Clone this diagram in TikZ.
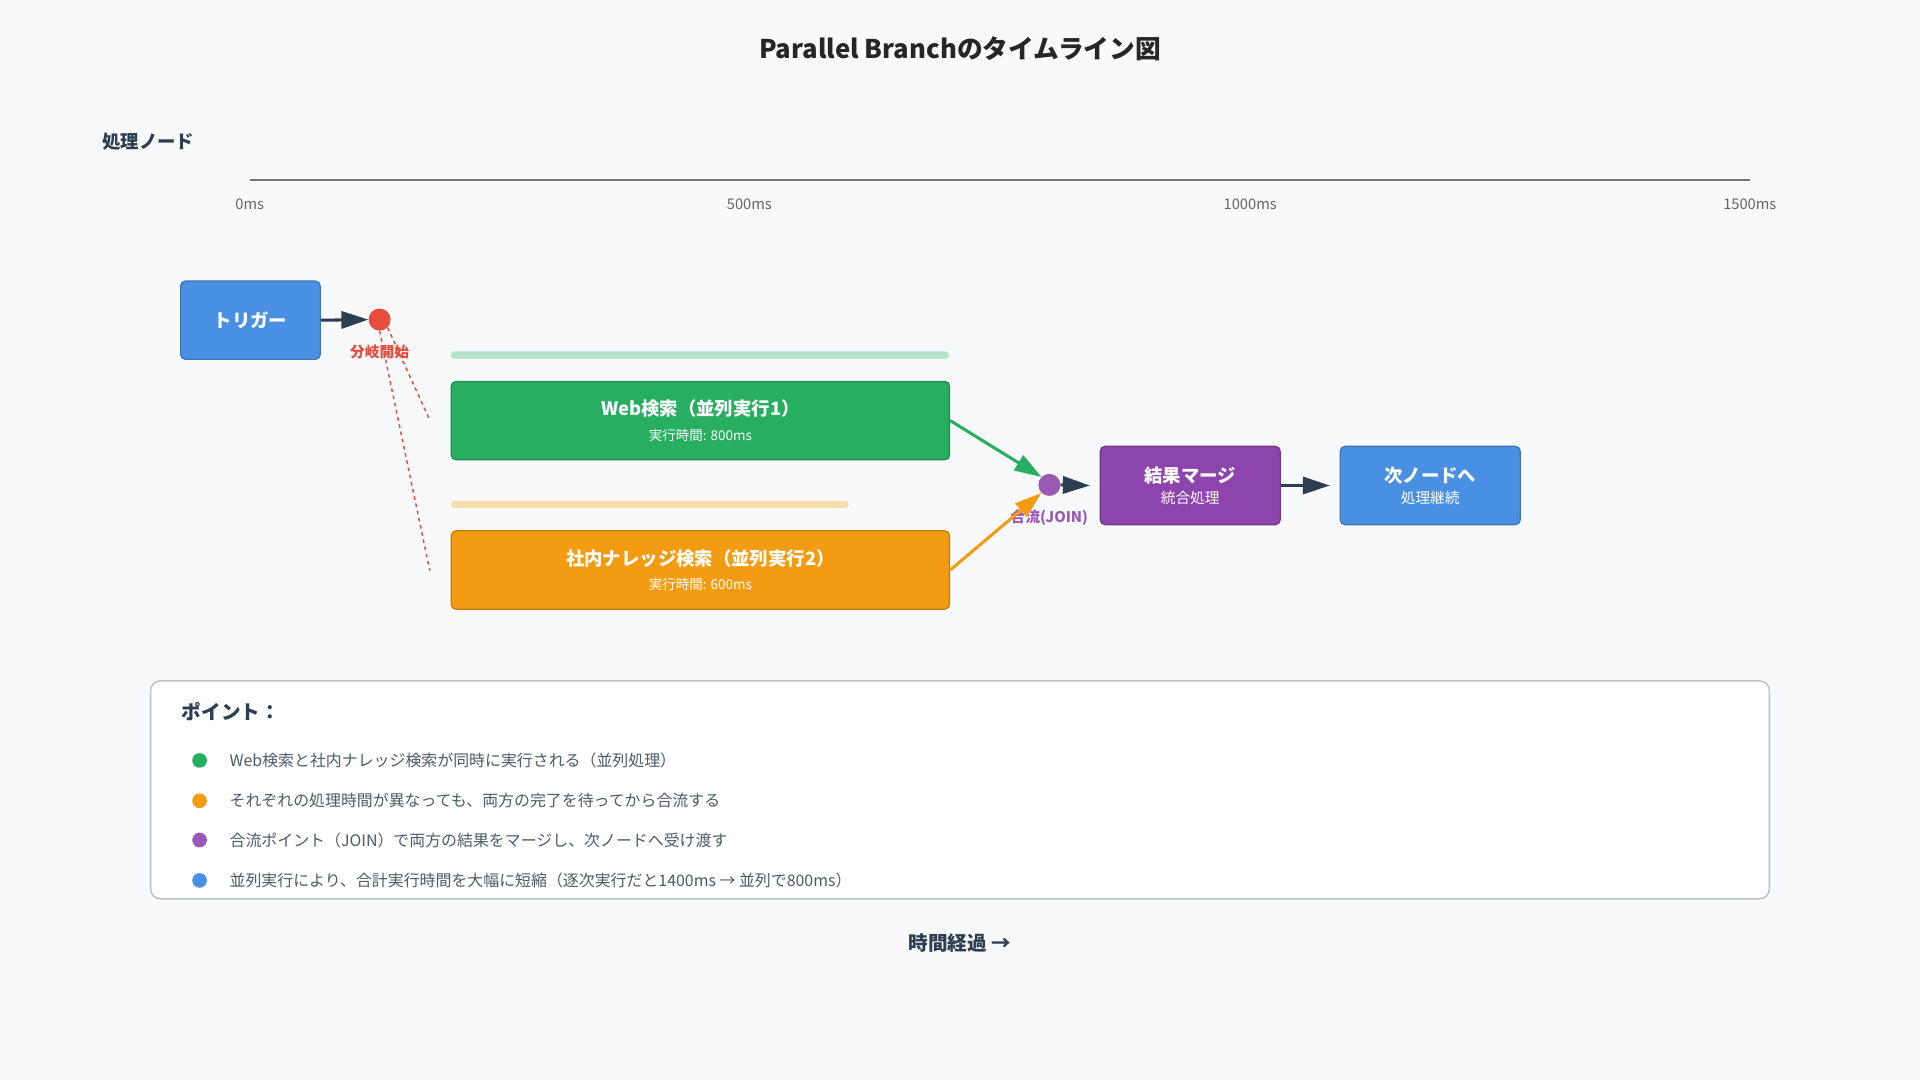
\documentclass[tikz,border=0pt]{standalone}
\usepackage{fontspec}
\setmainfont{Noto Sans CJK JP}
\usetikzlibrary{arrows.meta,positioning}
\definecolor{bg}{HTML}{F8F9FA}
\definecolor{ink}{HTML}{2C3E50}
\definecolor{cblue}{HTML}{4A90E2}
\definecolor{cgreen}{HTML}{27AE60}
\definecolor{corange}{HTML}{F39C12}
\definecolor{cpurple}{HTML}{8E44AD}
\definecolor{cjoin}{HTML}{9B59B6}
\definecolor{cred}{HTML}{E74C3C}
\tikzset{
  box/.style={draw=#1!80!black, fill=#1, rounded corners=4pt, line width=1pt, text=white, align=center, anchor=north west},
  tip/.style={-{Triangle[length=22pt,width=14pt]}, line width=2.5pt},
  flow/.style={tip, ink},
  dot/.style={circle, fill=#1, minimum size=18pt, inner sep=0pt},
  bullet/.style={circle, fill=#1, minimum size=12pt, inner sep=0pt},
  pt/.style={anchor=west, font=\fontsize{13}{15}\selectfont, text=ink!85}
}
\begin{document}
\begin{tikzpicture}[x=1pt,y=-1pt]
  % Hintergrund
  \fill[bg] (0,0) rectangle (1568,882);
  \useasboundingbox (0,0) rectangle (1568,882);
  \node[font=\fontsize{21}{25}\selectfont\bfseries, text=black!85] (title) at (784,40) {Parallel Branchのタイムライン図};
  \node[anchor=west, font=\fontsize{15}{18}\selectfont\bfseries, text=ink] (lane) at (80,116) {処理ノード};

  % Zeitachse
  \draw[black!55, line width=1pt] (204,147) -- (1429,147);
  \foreach \x/\t in {204/0ms, 612/500ms, 1021/1000ms, 1429/1500ms}
    \node[font=\fontsize{12}{14}\selectfont, text=black!60] at (\x,167) {\t};

  % Trigger
  \node[box=cblue, minimum width=114pt, minimum height=64pt, font=\fontsize{15}{18}\selectfont\bfseries] (trigger) at (147,229) {トリガー};
  \node[dot=cred] (fork) at (310,261) {};
  \node[below=8pt of fork, font=\fontsize{12}{14}\selectfont\bfseries, text=cred] (forklbl) {分岐開始};
  \draw[flow] (trigger.east) -- (fork.west);
  \coordinate (w1) at (351,343);
  \coordinate (w2) at (351,466);
  \draw[cred, dashed, line width=1.2pt] (fork.south east) -- (w1);
  \draw[cred, dashed, line width=1.2pt] (fork.south) -- (w2);

  % parallele Zweige
  \fill[cgreen!35, rounded corners=3pt] (368,287) rectangle (775,293);
  \fill[corange!35, rounded corners=3pt] (368,409) rectangle (693,415);
  \node[box=cgreen, minimum width=407pt, minimum height=64pt] (web) at (368,311)
    {{\fontsize{15}{18}\selectfont\bfseries Web検索（並列実行1）}\\[8pt]{\fontsize{11}{13}\selectfont 実行時間: 800ms}};
  \node[box=corange, minimum width=407pt, minimum height=64pt] (kb) at (368,433)
    {{\fontsize{15}{18}\selectfont\bfseries 社内ナレッジ検索（並列実行2）}\\[8pt]{\fontsize{11}{13}\selectfont 実行時間: 600ms}};

  % Zusammenfuehrung
  \node[dot=cjoin] (join) at (857,396) {};
  \node[below=8pt of join, font=\fontsize{12}{14}\selectfont\bfseries, text=cjoin] (joinlbl) {合流(JOIN)};
  \draw[tip, cgreen] (web.east) -- (join.north west);
  \draw[tip, corange] (kb.east) -- (join.south west);
  \node[box=cpurple, minimum width=147pt, minimum height=64pt] (merge) at (898,364)
    {{\fontsize{15}{18}\selectfont\bfseries 結果マージ}\\[5pt]{\fontsize{12}{14}\selectfont 統合処理}};
  \node[box=cblue, minimum width=147pt, minimum height=64pt] (next) at (1094,364)
    {{\fontsize{15}{18}\selectfont\bfseries 次ノードへ}\\[5pt]{\fontsize{12}{14}\selectfont 処理継続}};
  \draw[flow] (join.east) -- ([xshift=-8pt]merge.west);
  \draw[flow] (merge.east) -- ([xshift=-8pt]next.west);

  % Punkte
  \draw[black!25, fill=white, rounded corners=8pt, line width=1.2pt] (123,556) rectangle (1445,734);
  \node[anchor=west, font=\fontsize{16}{19}\selectfont\bfseries, text=ink] (ptitle) at (145,581) {ポイント：};
  \foreach \y/\c/\t in {
      621/cgreen/{Web検索と社内ナレッジ検索が同時に実行される（並列処理）},
      654/corange/{それぞれの処理時間が異なっても、両方の完了を待ってから合流する},
      686/cjoin/{合流ポイント（JOIN）で両方の結果をマージし、次ノードへ受け渡す},
      719/cblue/{並列実行により、合計実行時間を大幅に短縮（逐次実行だと1400ms → 並列で800ms）}} {
    \node[bullet=\c] at (163,\y) {};
    \node[pt] at (184,\y) {\t};
  }
  \node[font=\fontsize{16}{19}\selectfont\bfseries, text=ink] (time) at (784,770) {時間経過 →};
\end{tikzpicture}
\end{document}
